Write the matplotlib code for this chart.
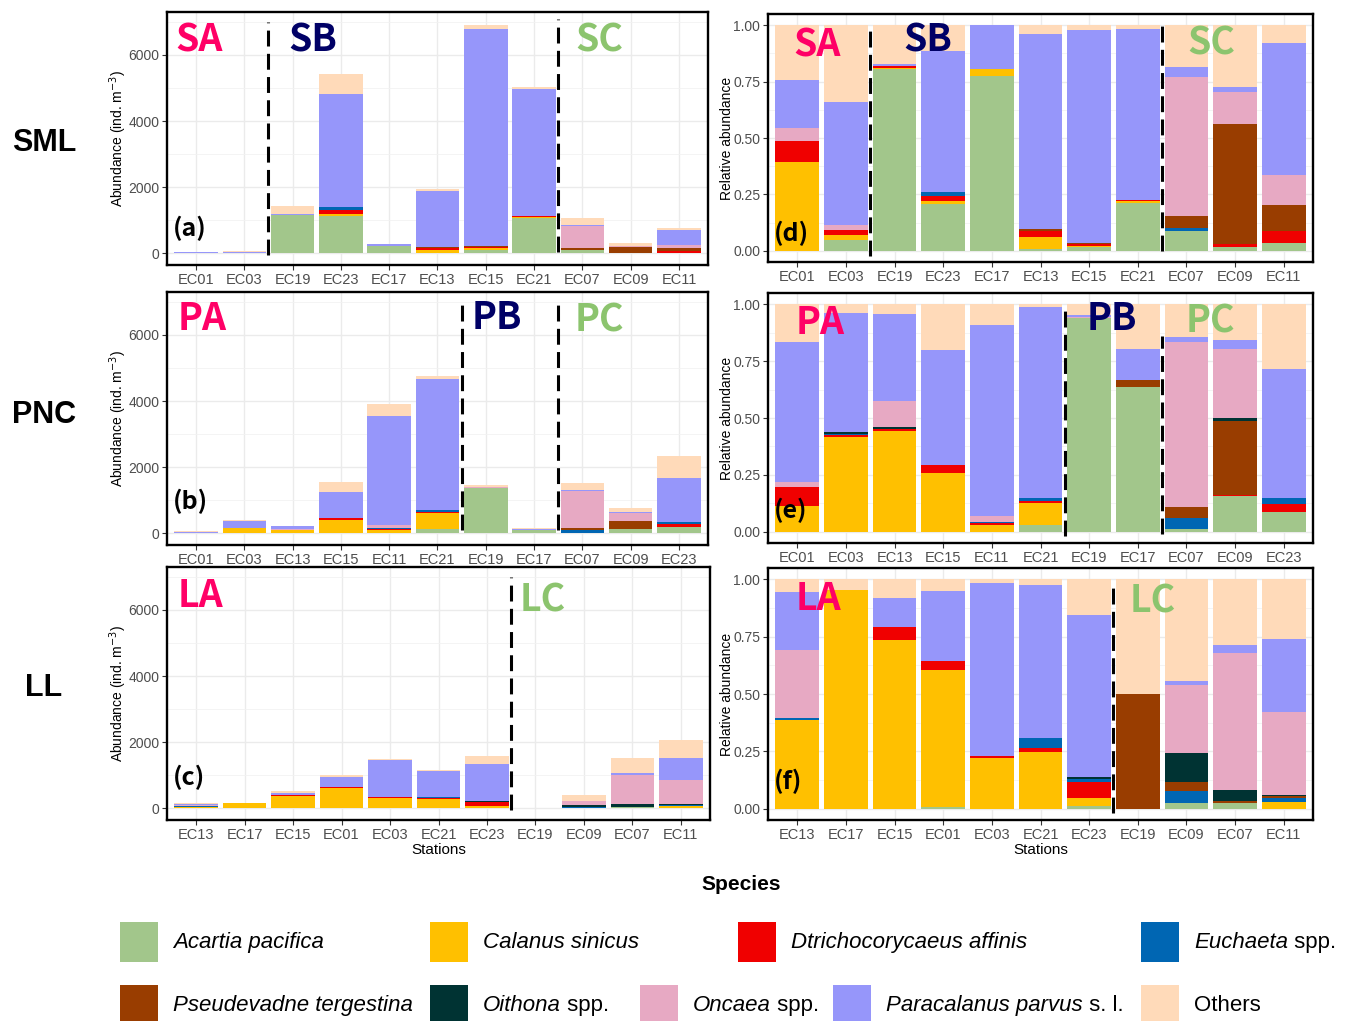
import numpy as np
import matplotlib
matplotlib.use("Agg")
import matplotlib.pyplot as plt
from matplotlib.patches import Rectangle
from matplotlib.ticker import MultipleLocator

W, H = 1349, 1021

# species in stacking order (bottom -> top)
species_italic = ["Acartia pacifica", "Calanus sinicus", "Dtrichocorycaeus affinis",
                  "Euchaeta", "Pseudevadne tergestina", "Oithona", "Oncaea",
                  "Paracalanus parvus", ""]
species_plain = ["", "", "", " spp.", "", " spp.", " spp.", " s. l.", "Others"]
colours = ["#A2C68B", "#FFC000", "#F00000", "#0066B3", "#993D00",
           "#003333", "#E7A9C3", "#9696FA", "#FFDAB9"]

# ---- SML ----
sml_stations = ["EC01", "EC03", "EC19", "EC23", "EC17", "EC13", "EC15", "EC21", "EC07", "EC09", "EC11"]
sml_total = [45, 75, 1430, 5430, 295, 1945, 6920, 5045, 1065, 325, 770]
sml_share = [
    [0, .048, .808, .209, .777, .007, .015, .212, .088, .018, .034],   # Acartia
    [.392, .022, .002, .011, .028, .054, .008, .008, 0, 0, 0],         # Calanus
    [.096, .022, .008, .023, 0, .027, .005, .005, 0, .011, .054],      # Dtrichocorycaeus
    [0, 0, 0, .017, 0, 0, 0, 0, .012, 0, 0],                           # Euchaeta
    [0, 0, 0, 0, 0, .009, .006, 0, .055, .532, .114],                  # Pseudevadne
    [0, 0, 0, 0, 0, 0, 0, 0, 0, 0, 0],                                 # Oithona
    [.058, .022, .003, 0, 0, 0, 0, 0, .614, .145, .132],               # Oncaea
    [.212, .545, .006, .626, .195, .866, .947, .759, .045, .019, .588],  # Paracalanus
    [.242, .341, .173, .114, 0, .037, .019, .016, .186, .275, .078],   # Others
]

# ---- PNC ----
pnc_stations = ["EC01", "EC03", "EC13", "EC15", "EC11", "EC21", "EC19", "EC17", "EC07", "EC09", "EC23"]
pnc_total = [60, 400, 222, 1550, 3905, 4745, 1475, 150, 1530, 760, 2340]
pnc_share = [
    [0, 0, 0, 0, 0, .029, .938, .638, .013, .157, .088],
    [.114, .418, .444, .257, .029, .099, 0, 0, 0, 0, 0],
    [.084, .009, .009, .038, .008, .007, 0, 0, 0, .003, .032],
    [0, .004, 0, 0, .007, .012, 0, 0, .049, 0, .030],
    [0, 0, 0, 0, 0, 0, 0, .029, .048, .327, 0],
    [0, .006, .009, 0, 0, 0, 0, 0, 0, .012, 0],
    [.019, 0, .113, 0, .025, 0, .005, 0, .723, .305, 0],
    [.616, .523, .382, .504, .840, .840, .010, .135, .022, .039, .566],
    [.167, .040, .043, .201, .091, .013, .047, .198, .145, .157, .284],
]

# ---- LL ----
ll_stations = ["EC13", "EC17", "EC15", "EC01", "EC03", "EC21", "EC23", "EC19", "EC09", "EC07", "EC11"]
ll_total = [150, 160, 515, 1010, 1480, 1155, 1580, 8, 405, 1510, 2055]
ll_share = [
    [0, 0, 0, .007, 0, 0, .012, 0, .025, .025, 0],
    [.387, .955, .734, .599, .219, .245, .032, 0, 0, 0, .029],
    [0, 0, .059, .039, .010, .021, .070, 0, 0, 0, 0],
    [.010, 0, 0, 0, 0, .043, .017, 0, .051, 0, .015],
    [0, 0, 0, 0, 0, 0, 0, .5, .041, .007, .010],
    [0, 0, 0, 0, 0, 0, .006, 0, .124, .048, .007],
    [.296, 0, 0, 0, 0, 0, 0, 0, .299, .599, .359],
    [.253, 0, .124, .304, .755, .666, .707, 0, .018, .033, .322],
    [.054, .045, .083, .051, .016, .025, .156, .5, .442, .288, .258],
]

PINK, NAVY, GREEN = "#FF0066", "#000066", "#8CC46E"
LABEL_FONT = ["Noto Sans CJK KR", "DejaVu Sans"]
plt.rcParams["font.family"] = ["Liberation Sans", "DejaVu Sans"]

fig = plt.figure(figsize=(W / 100, H / 100), dpi=100)


def px_axes(l, t, r, b):
    return fig.add_axes([l / W, 1 - b / H, (r - l) / W, (b - t) / H])


def draw_panel(ax, stations, shares, totals, relative, dashes, groups, letter, letter_y):
    x = np.arange(1, len(stations) + 1)
    shares = np.array(shares, float)
    shares = shares / shares.sum(axis=0)
    vals = shares if relative else shares * np.array(totals, float)
    bottom = np.zeros(len(stations))
    for row, c in zip(vals, colours):
        ax.bar(x, row, 0.9, bottom=bottom, color=c, linewidth=0, zorder=2)
        bottom += row

    ax.set_xlim(0.4, len(stations) + 0.6)
    if relative:
        ax.set_ylim(-0.05, 1.05)
        ax.set_yticks([0, .25, .5, .75, 1.0], ["0.00", "0.25", "0.50", "0.75", "1.00"])
        ax.yaxis.set_minor_locator(MultipleLocator(0.125))
        ax.set_ylabel("Relative abundance", fontsize=10)
        ax.yaxis.set_label_coords(-0.062, 0.5)
    else:
        ax.set_ylim(-350, 7300)
        ax.set_yticks([0, 2000, 4000, 6000])
        ax.yaxis.set_minor_locator(MultipleLocator(1000))
        ax.set_ylabel("Abundance (ind. m$^{-3}$)", fontsize=10)
        ax.yaxis.set_label_coords(-0.07, 0.5)
    ax.set_xticks(x, stations)
    ax.set_axisbelow(True)
    ax.grid(which="major", color="#EBEBEB", lw=1.0, zorder=0)
    ax.grid(which="minor", axis="y", color="#F2F2F2", lw=0.6, zorder=0)
    ax.tick_params(which="major", labelsize=10, labelcolor="#4D4D4D", color="#333333",
                   length=3.5, width=0.8, pad=2)
    ax.tick_params(axis="x", labelsize=10.5)
    ax.tick_params(which="minor", length=0)
    for s in ax.spines.values():
        s.set_linewidth(1.7)
        s.set_color("black")

    for xd, y0, y1 in dashes:
        ax.vlines(xd, y0, y1, colors="black", lw=2.2, linestyles=(0, (5.2, 2.4)), zorder=4)

    for txt, gx, gy, col in groups:
        ax.text(gx, gy, txt, transform=ax.transAxes, color=col, fontsize=27,
                fontweight="bold", family=LABEL_FONT, ha="left", va="center", zorder=5)
    ax.text(0.01, letter_y, letter, transform=ax.transAxes, fontsize=18,
            fontweight="bold", family=LABEL_FONT, ha="left", va="center", zorder=5)


ax_a = px_axes(167, 12, 708, 265)
draw_panel(ax_a, sml_stations, sml_share, sml_total, False,
           [(2.5, -50, 7000), (8.5, 50, 7100)],
           [("SA", 0.015, 0.889, PINK), ("SB", 0.224, 0.889, NAVY), ("SC", 0.754, 0.889, GREEN)],
           "(a)", 0.146)

ax_d = px_axes(768, 14, 1313, 262)
draw_panel(ax_d, sml_stations, sml_share, None, True,
           [(2.5, -0.025, 0.98), (8.5, 0.0, 1.0)],
           [("SA", 0.046, 0.875, PINK), ("SB", 0.248, 0.895, NAVY), ("SC", 0.769, 0.883, GREEN)],
           "(d)", 0.117)

ax_b = px_axes(167, 292, 708, 545)
draw_panel(ax_b, pnc_stations, pnc_share, pnc_total, False,
           [(6.5, 100, 7050), (8.5, 100, 7050)],
           [("PA", 0.02, 0.897, PINK), ("PB", 0.564, 0.901, NAVY), ("PC", 0.754, 0.889, GREEN)],
           "(b)", 0.174)

ax_e = px_axes(768, 293, 1313, 543)
draw_panel(ax_e, pnc_stations, pnc_share, None, True,
           [(6.5, -0.02, 1.0), (8.5, -0.01, 0.86)],
           [("PA", 0.05, 0.88, PINK), ("PB", 0.585, 0.9, NAVY), ("PC", 0.767, 0.888, GREEN)],
           "(e)", 0.132)

ax_c = px_axes(167, 567, 710, 820)
draw_panel(ax_c, ll_stations, ll_share, ll_total, False,
           [(7.5, -50, 7000)],
           [("LA", 0.02, 0.889, PINK), ("LC", 0.65, 0.87, GREEN)],
           "(c)", 0.17)
ax_c.set_xlabel("Stations", fontsize=11, labelpad=1)

ax_f = px_axes(768, 568, 1313, 820)
draw_panel(ax_f, ll_stations, ll_share, None, True,
           [(7.5, -0.02, 0.98)],
           [("LA", 0.05, 0.877, PINK), ("LC", 0.664, 0.869, GREEN)],
           "(f)", 0.151)
ax_f.set_xlabel("Stations", fontsize=11, labelpad=1)

# row labels
for name, yc in [("SML", 143), ("PNC", 415), ("LL", 688)]:
    fig.text(44 / W, 1 - yc / H, name, fontsize=22, fontweight="bold",
             ha="center", va="center")

# legend drawn in pixel space
leg = fig.add_axes([0, 0, 1, 1], facecolor="none")
leg.set_xlim(0, W)
leg.set_ylim(H, 0)
leg.axis("off")
leg.text(741, 884, "Species", fontsize=15, fontweight="bold", ha="center", va="center")

leg_rows = [[0, 1, 2, 3], [4, 5, 6, 7, 8]]
leg_x = [[120, 430, 738, 1141], [120, 430, 640, 833, 1141]]
leg_y = [942, 1005]
renderer = fig.canvas.get_renderer()
for idxs, xs, yc in zip(leg_rows, leg_x, leg_y):
    for i, x0 in zip(idxs, xs):
        leg.add_patch(Rectangle((x0, yc - 20), 38, 40, color=colours[i], lw=0))
        tx = x0 + 53
        if species_italic[i]:
            t = leg.text(tx, yc, species_italic[i], fontsize=16, style="italic",
                         ha="left", va="center")
            tx = t.get_window_extent(renderer=renderer).x1
        if species_plain[i]:
            leg.text(tx, yc, species_plain[i], fontsize=16, ha="left", va="center")

fig.savefig("out.png", dpi=100)
